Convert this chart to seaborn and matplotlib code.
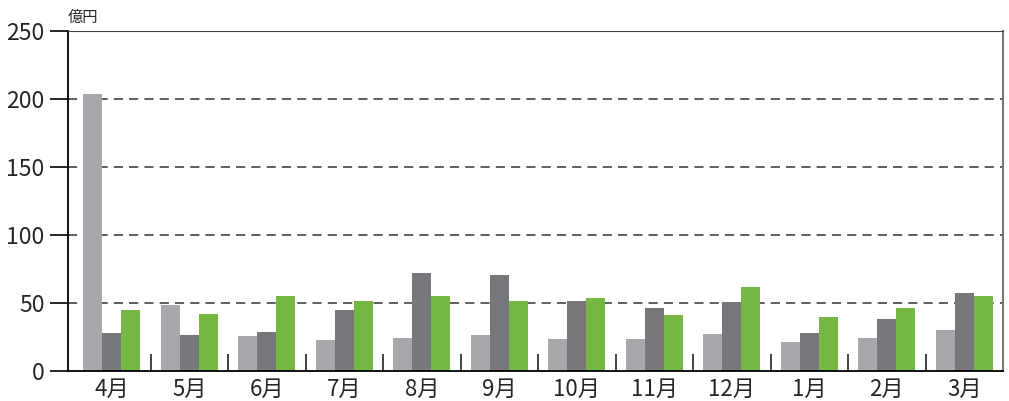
import matplotlib
matplotlib.use("Agg")
import matplotlib.pyplot as plt
import seaborn as sns
import numpy as np
import pandas as pd

# 月別の値（億円）
months = ["4月", "5月", "6月", "7月", "8月", "9月", "10月", "11月", "12月", "1月", "2月", "3月"]
series_names = ["A", "B", "C"]
values_a = [204, 48.5, 25.5, 22.5, 24.5, 26.5, 23.5, 23.5, 27.5, 21.5, 24.5, 30.5]
values_b = [28, 26.5, 28.5, 45, 72, 70.5, 51.5, 46, 50.5, 28, 38.5, 57]
values_c = [45, 42, 55.5, 51.5, 55.5, 51.5, 53.5, 41.5, 62, 39.5, 46, 55.5]
colors = ["#A7A8AC", "#77787C", "#76B743"]

df = pd.DataFrame({
    "month": months * 3,
    "series": np.repeat(series_names, len(months)),
    "value": values_a + values_b + values_c,
})

sns.set_style("white")
plt.rcParams["font.family"] = ["Noto Sans CJK JP", "DejaVu Sans"]

fig = plt.figure(figsize=(10.09, 4.01), dpi=100)
ax = fig.add_axes([68 / 1009, 30 / 401, 935 / 1009, 340 / 401])

sns.barplot(data=df, x="month", y="value", hue="series", order=months,
            palette=colors, width=0.73, gap=0, saturation=1, legend=False,
            linewidth=0, edgecolor="none", ax=ax)

ax.set_ylim(0, 250)
ax.set_xlim(-0.565, len(months) - 0.5)
ax.set_yticks([0, 50, 100, 150, 200, 250])
for y in [50, 100, 150, 200]:
    ax.axhline(y, color="#333333", linestyle=(0, (6, 4)), linewidth=1.1, zorder=0)

ax.set_xlabel("")
ax.set_ylabel("")
ax.tick_params(axis="y", direction="out", length=13, width=1.2, color="black",
               labelsize=16.5, pad=4, left=True)
ax.tick_params(axis="x", which="major", length=0, labelsize=16, pad=5)
ax.set_xticks(np.arange(0.5, len(months) - 1, 1), minor=True)
ax.tick_params(axis="x", which="minor", direction="in", length=12, width=1.2,
               color="#222222", bottom=True)

for side in ["left", "bottom"]:
    ax.spines[side].set_color("black")
    ax.spines[side].set_linewidth(1.3)
ax.spines["top"].set_color("#444444")
ax.spines["right"].set_color("#777777")
ax.spines["right"].set_linewidth(1.5)

fig.text(68 / 1009, 1 - 17 / 401, "億円", fontsize=11, ha="left", va="center")

fig.savefig("out.png", dpi=100)
